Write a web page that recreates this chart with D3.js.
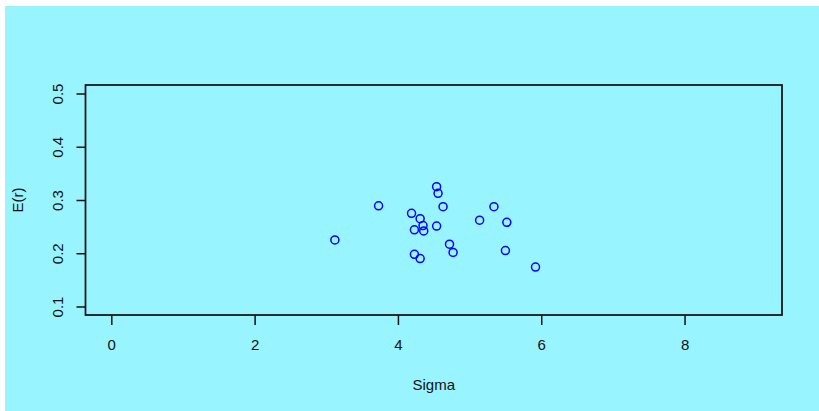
<!DOCTYPE html>
<html>
<head>
<meta charset="utf-8">
<script src="https://cdn.jsdelivr.net/npm/d3@7"></script>
<style>
  body { margin: 0; background: #ffffff; }
  text { font-family: "Liberation Sans", Arial, sans-serif; fill: #111; }
</style>
</head>
<body>
<script>
// portfolio points: risk (sigma) vs expected return
var sigma = [3.12, 3.73, 4.19, 4.31, 4.35, 4.23, 4.36, 4.54, 4.54, 4.56,
             4.63, 4.72, 4.77, 4.23, 4.31, 5.14, 5.34, 5.52, 5.50, 5.92];
var er = [0.225, 0.289, 0.275, 0.265, 0.252, 0.244, 0.242, 0.251, 0.325, 0.3125,
          0.2875, 0.217, 0.2015, 0.198, 0.190, 0.262, 0.2875, 0.258, 0.205, 0.174];

var xTicks = [0, 2, 4, 6, 8];
var yTicks = [0.1, 0.2, 0.3, 0.4, 0.5];
var xLim = [0, 9];
var yLim = [0.1, 0.5];

var width = 819;
var height = 411;

var box = { left: 85.5, right: 782, top: 85, bottom: 315 };

var svg = d3.select("body").append("svg")
    .attr("width", width)
    .attr("height", height);

// cyan panel, offset a little like the original
svg.append("rect")
    .attr("x", 5)
    .attr("y", 6)
    .attr("width", width - 5)
    .attr("height", height - 6)
    .attr("fill", "#98F5FF");

// R-style 4% extension on both axes
var xPad = (xLim[1] - xLim[0]) * 0.04;
var yPad = (yLim[1] - yLim[0]) * 0.04;

var x = d3.scaleLinear()
    .domain([xLim[0] - xPad, xLim[1] + xPad])
    .range([box.left, box.right]);

var y = d3.scaleLinear()
    .domain([yLim[0] - yPad, yLim[1] + yPad])
    .range([box.bottom, box.top]);

var xAxis = svg.append("g")
    .attr("transform", `translate(0 ${box.bottom})`)
    .call(d3.axisBottom(x).tickValues(xTicks).tickSize(10).tickPadding(14).tickFormat(d3.format("d")));

var yAxis = svg.append("g")
    .attr("transform", `translate(${box.left} 0)`)
    .call(d3.axisLeft(y).tickValues(yTicks).tickSize(9).tickFormat(d3.format(".1f")));

[xAxis, yAxis].forEach(function (g) {
    g.select(".domain").remove();
    g.selectAll(".tick line").attr("stroke", "#111").attr("stroke-width", 1.5);
    g.selectAll("text")
        .style("font-family", "Liberation Sans, Arial, sans-serif")
        .style("font-size", "15px")
        .attr("fill", "#111");
});

// x labels: condensed a bit like the original
xAxis.selectAll(".tick text")
    .attr("dy", null)
    .attr("y", 35)
    .attr("transform", "scale(0.9 1)")
    .attr("x", 0);
xAxis.selectAll(".tick").each(function () {
    var t = d3.select(this).select("text");
    t.attr("transform", null).attr("text-anchor", "middle");
});

// y labels rotated parallel to the axis
yAxis.selectAll(".tick text")
    .attr("x", null)
    .attr("dy", null)
    .attr("text-anchor", "middle")
    .attr("transform", "translate(-22.5 0) rotate(-90)");

svg.append("rect")
    .attr("x", box.left)
    .attr("y", box.top)
    .attr("width", box.right - box.left)
    .attr("height", box.bottom - box.top)
    .attr("fill", "none")
    .attr("stroke", "#1a1a1a")
    .attr("stroke-width", 1.8);

svg.selectAll("circle")
    .data(d3.zip(sigma, er))
    .enter().append("circle")
    .attr("cx", function (d) { return x(d[0]); })
    .attr("cy", function (d) { return y(d[1]); })
    .attr("r", 4)
    .attr("fill", "none")
    .attr("stroke", "#0000ff")
    .attr("stroke-width", 1.5);

svg.append("text")
    .attr("x", (box.left + box.right) / 2)
    .attr("y", 390)
    .attr("text-anchor", "middle")
    .style("font-size", "15px")
    .text("Sigma");

svg.append("text")
    .attr("transform", `translate(23 ${(box.top + box.bottom) / 2}) rotate(-90)`)
    .attr("text-anchor", "middle")
    .style("font-size", "15px")
    .text("E(r)");
</script>
</body>
</html>
